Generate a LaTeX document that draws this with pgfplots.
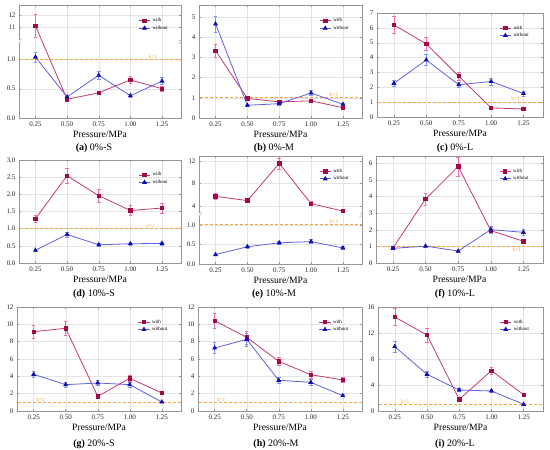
\documentclass[border=0pt]{standalone}
\usepackage{fontspec}
\setmainfont{Liberation Serif}
\usepackage{pgfplots}
\pgfplotsset{compat=1.18}
\usepackage{pgfplotstable}

\definecolor{wline}{RGB}{198,56,116}
\definecolor{wmark}{RGB}{160,10,70}
\definecolor{werr}{RGB}{240,110,175}
\definecolor{oline}{RGB}{95,95,230}
\definecolor{omark}{RGB}{15,15,175}
\definecolor{oerr}{RGB}{125,150,255}
\definecolor{kc}{RGB}{250,165,55}
\definecolor{gridc}{RGB}{228,228,228}
\definecolor{framec}{RGB}{150,150,150}

\tikzset{klab/.style={text=kc, font=\fontsize{5.5}{6}\selectfont, inner sep=1pt}}

\pgfplotsset{
  panel/.style={
    scale only axis, anchor=south west,
    xmin=0.12, xmax=1.4, ymin=0,
    xtick={0.25,0.5,0.75,1,1.25},
    xticklabels={0.25,0.50,0.75,1.00,1.25},
    grid=major, major grid style={draw=gridc, line width=0.35pt},
    axis line style={draw=framec, line width=0.5pt},
    tick style={draw=framec, line width=0.4pt},
    tick align=inside, major tick length=2bp,
    ticklabel style={font=\fontsize{7}{8}\selectfont, text=black!85},
    /pgf/number format/assume math mode=true,
    xlabel={Pressure/MPa},
    xlabel style={font=\fontsize{9.7}{10}\selectfont, yshift=2bp},
    legend style={at={(0.73,0.91)}, anchor=north west, draw=none, fill=none,
      font=\fontsize{5}{6}\selectfont, inner sep=1pt, row sep=-1.5pt},
    legend cell align=left,
    legend image code/.code={\draw[mark repeat=2,mark phase=2,##1] plot coordinates {(0cm,0cm) (0.2cm,0cm) (0.4cm,0cm)};},
  },
  wplot/.style={draw=wline, line width=0.8pt, mark=square*, mark size=1.7bp,
    mark options={draw=wmark, fill=wmark, solid},
    error bars/y dir=both, error bars/y explicit,
    error bars/error bar style={draw=werr, color=werr, line width=0.5pt},
    error bars/error mark options={rotate=90, draw=werr, color=werr, mark size=1.8bp, line width=0.5pt}},
  oplot/.style={draw=oline, line width=0.8pt, mark=triangle*, mark size=2.1bp,
    mark options={draw=omark, fill=omark, solid},
    error bars/y dir=both, error bars/y explicit,
    error bars/error bar style={draw=oerr, color=oerr, line width=0.5pt},
    error bars/error mark options={rotate=90, draw=oerr, color=oerr, mark size=1.8bp, line width=0.5pt}},
  kl/.style={draw=kc, dash pattern=on 3bp off 2bp, line width=0.8pt, forget plot},
}

\pgfplotstableread{
x w we o oe
0.25 11.13 0.92 1.04 0.09
0.50 0.32 0.02 0.36 0.03
0.75 0.43 0.03 0.73 0.06
1.00 0.65 0.06 0.38 0.03
1.25 0.50 0.05 0.63 0.06
}\tA
\pgfplotstableread{
x w we o oe
0.25 3.34 0.31 4.66 0.40
0.50 0.97 0.07 0.63 0.05
0.75 0.80 0.06 0.71 0.06
1.00 0.85 0.07 1.24 0.12
1.25 0.51 0.04 0.68 0.06
}\tB
\pgfplotstableread{
x w we o oe
0.25 6.20 0.56 2.26 0.20
0.50 4.92 0.45 3.84 0.35
0.75 2.75 0.25 2.17 0.20
1.00 0.61 0.05 2.39 0.22
1.25 0.54 0.05 1.58 0.15
}\tC
\pgfplotstableread{
x w we o oe
0.25 1.29 0.10 0.37 0.03
0.50 2.54 0.23 0.83 0.07
0.75 1.96 0.20 0.53 0.04
1.00 1.53 0.15 0.56 0.04
1.25 1.60 0.14 0.57 0.04
}\tD
\pgfplotstableread{
x w we o oe
0.25 5.73 0.45 0.24 0.02
0.50 4.96 0.35 0.44 0.03
0.75 11.58 1.00 0.54 0.04
1.00 4.42 0.35 0.57 0.05
1.25 3.10 0.20 0.41 0.03
}\tE
\pgfplotstableread{
x w we o oe
0.25 0.90 0.07 0.88 0.08
0.50 3.86 0.37 1.02 0.08
0.75 5.82 0.58 0.72 0.05
1.00 1.95 0.18 2.01 0.20
1.25 1.31 0.10 1.85 0.17
}\tF
\pgfplotstableread{
x w we o oe
0.25 9.15 0.75 4.23 0.35
0.50 9.54 0.80 3.04 0.25
0.75 1.69 0.12 3.23 0.30
1.00 3.77 0.30 3.04 0.25
1.25 2.08 0.15 1.04 0.08
}\tG
\pgfplotstableread{
x w we o oe
0.25 10.42 0.90 7.27 0.65
0.50 8.50 0.75 8.27 0.75
0.75 5.73 0.50 3.54 0.30
1.00 4.19 0.40 3.31 0.30
1.25 3.58 0.30 1.77 0.12
}\tH
\pgfplotstableread{
x w we o oe
0.25 14.46 1.30 9.90 0.85
0.50 11.69 1.10 5.64 0.50
0.75 1.79 0.12 3.23 0.25
1.00 6.20 0.55 3.08 0.25
1.25 2.51 0.15 1.03 0.07
}\tI

\newcommand{\kline}{\addplot[kl] coordinates {(0.05,1) (1.5,1)};}
\newcommand{\series}[1]{%
  \addplot[wplot] table[x=x,y=w,y error=we]{#1};
  \addplot[oplot] table[x=x,y=o,y error=oe]{#1};
  \legend{with,without}}
% break marks on both spines at relative height #1
\newcommand{\breakmarks}[1]{%
  \fill[white] (rel axis cs:0,#1) ++(-2.5bp,-1.4bp) rectangle ++(5bp,2.8bp);
  \fill[white] (rel axis cs:1,#1) ++(-2.5bp,-1.4bp) rectangle ++(5bp,2.8bp);
  \draw[framec, line width=0.4pt] (rel axis cs:0,#1) ++(-2.5bp,-2.4bp) -- ++(5bp,2.4bp);
  \draw[framec, line width=0.4pt] (rel axis cs:0,#1) ++(-2.5bp,0bp) -- ++(5bp,2.4bp);
  \draw[framec, line width=0.4pt] (rel axis cs:1,#1) ++(-2.5bp,-2.4bp) -- ++(5bp,2.4bp);
  \draw[framec, line width=0.4pt] (rel axis cs:1,#1) ++(-2.5bp,0bp) -- ++(5bp,2.4bp);}

\begin{document}
\begin{tikzpicture}
\useasboundingbox (0,0) rectangle (550bp,450bp);

% (a) 0%-S  (broken y axis: upper segment compressed by 0.2173)
\begin{axis}[panel, at={(19bp,332bp)}, width=162bp, height=113bp,
  y coord trafo/.code={\pgfmathparse{(#1>5)?(1.31+(#1-9.92)*0.2173):(#1)}},
  y coord inv trafo/.code={\pgfmathparse{(#1>1.31)?((#1-1.31)/0.2173+9.92):(#1)}},
  ymax=12.77, ytick={0,0.5,1,11,12}, yticklabels={0.0,0.5,1.0,11,12}]
  \kline
  \addplot[wplot] table[x=x,y=w,y error expr={\thisrow{w}>5 ? \thisrow{we}*0.2173 : \thisrow{we}}]{\tA};
  \addplot[oplot] table[x=x,y=o,y error=oe]{\tA};
  \legend{with,without}
  \node[klab, above] at (axis cs:1.18,1) {k=1};
  \breakmarks{0.679}
\end{axis}

% (b) 0%-M
\begin{axis}[panel, at={(199bp,332bp)}, width=163bp, height=113bp,
  ymax=5.6, ytick={0,1,2,3,4,5}]
  \kline
  \series{\tB}
  \node[klab, above] at (axis cs:1.18,1) {k=1};
\end{axis}

% (c) 0%-L
\begin{axis}[panel, at={(377bp,333bp)}, width=166bp, height=104bp,
  ymax=7, ytick={0,1,2,3,4,5,6,7}]
  \kline
  \series{\tC}
  \node[klab, above] at (axis cs:1.19,1) {k=1};
\end{axis}

% (d) 10%-S
\begin{axis}[panel, at={(19bp,187bp)}, width=162bp, height=103bp,
  ymax=3, ytick={0,0.5,1,1.5,2,2.5,3}, yticklabels={0.0,0.5,1.0,1.5,2.0,2.5,3.0}]
  \kline
  \series{\tD}
  \node[klab, above] at (axis cs:1.16,1) {k=1};
\end{axis}

% (e) 10%-M  (broken y axis: upper segment compressed by 0.14316)
\begin{axis}[panel, at={(199bp,186bp)}, width=163bp, height=108bp,
  y coord trafo/.code={\pgfmathparse{(#1>2)?(1.265+(#1-2.51)*0.14316):(#1)}},
  y coord inv trafo/.code={\pgfmathparse{(#1>1.265)?((#1-1.265)/0.14316+2.51):(#1)}},
  ymax=12.9, ytick={0,0.5,1,4,8,12}, yticklabels={0.0,0.5,1.0,4,8,12}]
  \kline
  \addplot[wplot] table[x=x,y=w,y error expr={\thisrow{w}>2 ? \thisrow{we}*0.14316 : \thisrow{we}}]{\tE};
  \addplot[oplot] table[x=x,y=o,y error=oe]{\tE};
  \legend{with,without}
  \node[klab, above] at (axis cs:1.18,1) {k=1};
  \breakmarks{0.4596}
\end{axis}

% (f) 10%-L
\begin{axis}[panel, at={(376bp,187bp)}, width=167bp, height=107bp,
  ymax=6.45, ytick={0,1,2,3,4,5,6}]
  \kline
  \series{\tF}
  \node[klab, below] at (axis cs:1.2,1) {k=1};
\end{axis}

% (g) 20%-S
\begin{axis}[panel, at={(17bp,39bp)}, width=164bp, height=104bp,
  ymax=12, ytick={0,2,4,6,8,10,12}]
  \kline
  \series{\tG}
  \node[klab, above] at (axis cs:0.305,1) {k=1};
\end{axis}

% (h) 20%-M
\begin{axis}[panel, at={(198bp,39bp)}, width=164bp, height=104bp,
  ymax=12, ytick={0,2,4,6,8,10,12}]
  \kline
  \series{\tH}
  \node[klab, above] at (axis cs:0.30,1) {k=1};
\end{axis}

% (i) 20%-L
\begin{axis}[panel, at={(378bp,39bp)}, width=165bp, height=104bp,
  ymax=16, ytick={0,4,8,12,16}]
  \kline
  \series{\tI}
  \node[klab, above] at (axis cs:0.33,1) {k=1};
\end{axis}

% captions
\begin{scope}[every node/.style={font=\fontsize{10}{12}\selectfont, inner sep=0pt}]
\node at (94bp,302bp) {\textbf{(a)} 0\%-S};
\node at (274bp,302bp) {\textbf{(b)} 0\%-M};
\node at (455bp,302bp) {\textbf{(c)} 0\%-L};
\node at (94bp,156bp) {\textbf{(d)} 10\%-S};
\node at (274bp,156bp) {\textbf{(e)} 10\%-M};
\node at (455bp,156bp) {\textbf{(f)} 10\%-L};
\node at (94bp,5.5bp) {\textbf{(g)} 20\%-S};
\node at (276bp,5.5bp) {\textbf{(h)} 20\%-M};
\node at (455bp,5.5bp) {\textbf{(i)} 20\%-L};
\end{scope}
\end{tikzpicture}
\end{document}
